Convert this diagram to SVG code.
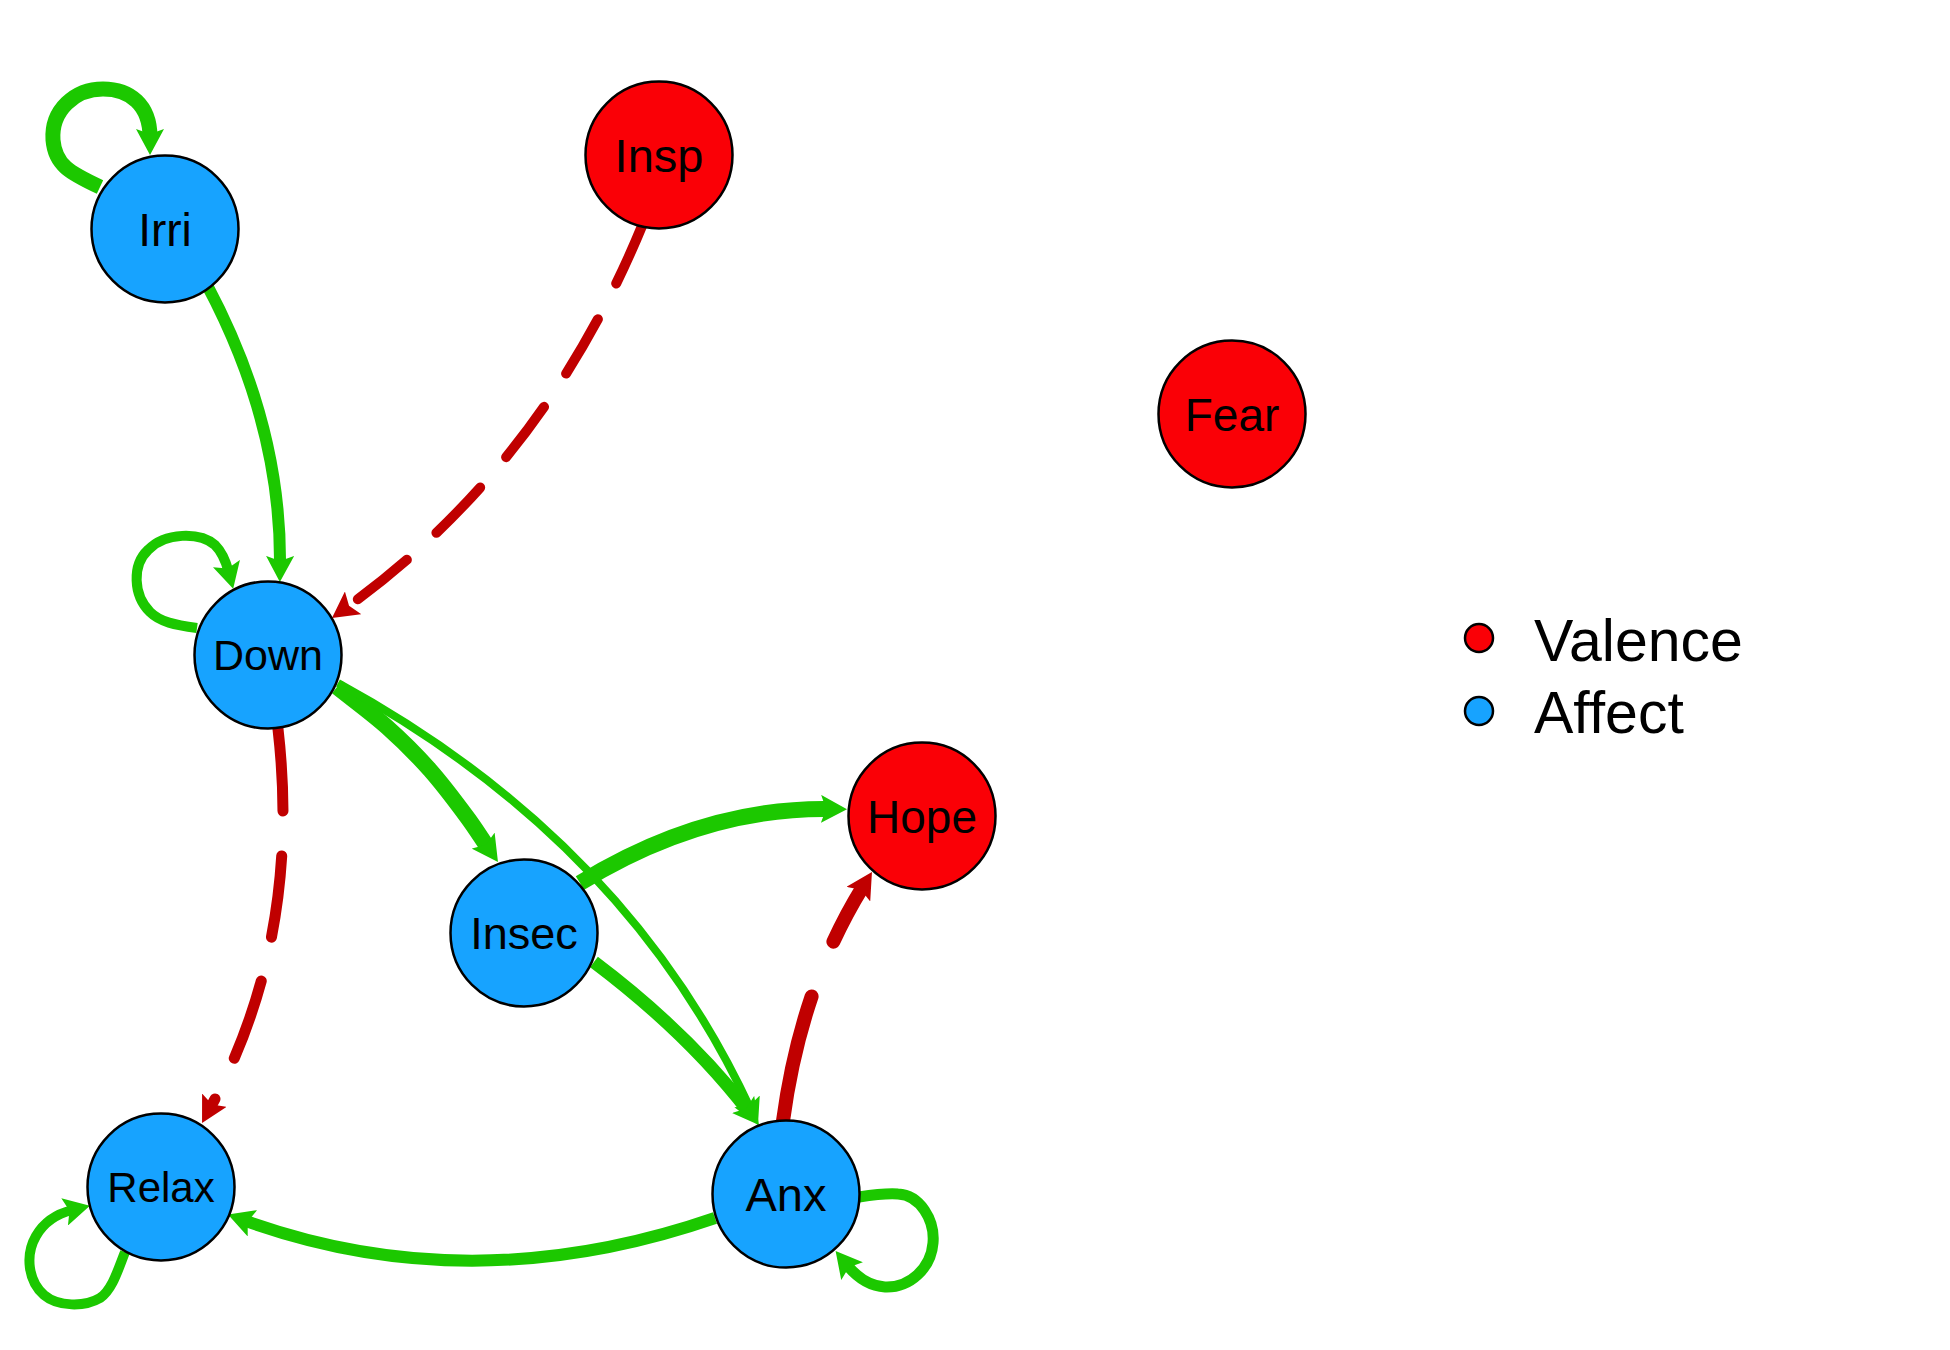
<svg xmlns="http://www.w3.org/2000/svg" width="1950" height="1350" viewBox="0 0 1950 1350">
<defs>
<style>
.e{fill:none;stroke-linecap:butt}
.g{stroke:#1CC800}
.r{stroke:#C00000}
.d{stroke-linecap:round}
.n circle{stroke:#000;stroke-width:2.5}
.aff{fill:#17A3FF}
.val{fill:#FA0006}
text{font-family:"Liberation Sans",Arial,sans-serif;fill:#000;text-anchor:middle}
.leg{text-anchor:start;font-size:59px}
</style>
<marker id="ag" viewBox="0 0 26 28" refX="8" refY="14" markerWidth="26" markerHeight="28" orient="auto" markerUnits="userSpaceOnUse"><path d="M0,0 L26,14 L0,28 L5,14 Z" fill="#1CC800"/></marker>
<marker id="ar" viewBox="0 0 26 28" refX="8" refY="14" markerWidth="26" markerHeight="28" orient="auto" markerUnits="userSpaceOnUse"><path d="M0,0 L26,14 L0,28 L5,14 Z" fill="#C00000"/></marker>
</defs>
<rect width="1950" height="1350" fill="#fff"/>
<g id="edges">
<path id="e-irri-irri" class="e g" stroke-width="15" marker-end="url(#ag)" d="M100,187 C70,173 55,165 53,140 C51,110 75,89 103,89 C130,89 150,105 150,137"/>
<path id="e-irri-down" class="e g" stroke-width="12" marker-end="url(#ag)" d="M207,285 Q281,424 280,564"/>
<path id="e-insp-down" class="e r d" stroke-width="10" stroke-dasharray="63 40" marker-end="url(#ar)" d="M642,226 Q543,466 346.6,607.5"/>
<path id="e-down-down" class="e g" stroke-width="10" marker-end="url(#ag)" d="M197,628 C175,625 160,622 150,612 C133,595 132,565 148,550 C165,532 200,532 215,545 C222,552 226,562 228.5,571.3"/>
<path id="e-down-insec" class="e g" stroke-width="16" marker-end="url(#ag)" d="M337,687 C353.7,700.3 371.5,713.2 387,727 C402.5,740.8 416.7,755 430,770 C443.3,785 455.7,801.7 467,817 C474.5,827 482,839 487.7,847.2"/>
<path id="e-down-anx" class="e g" stroke-width="8" marker-end="url(#ag)" d="M338,683 Q626,840 750.4,1108.7"/>
<path id="e-down-relax" class="e r d" stroke-width="11" stroke-dasharray="82 45" marker-end="url(#ar)" d="M278,729 Q302,938 210.6,1107.2"/>
<path id="e-insec-hope" class="e g" stroke-width="16" marker-end="url(#ag)" d="M580,883 Q703,807.4 829,809"/>
<path id="e-insec-anx" class="e g" stroke-width="13" marker-end="url(#ag)" d="M594,962 Q687.5,1032.5 748,1110.8"/>
<path id="e-anx-hope" class="e r d" stroke-width="14" stroke-dasharray="128 59" marker-end="url(#ar)" d="M783,1121 Q801,987 862.5,887.3"/>
<path id="e-anx-relax" class="e g" stroke-width="12" marker-end="url(#ag)" d="M715,1218 Q471.5,1302 244.9,1220.6"/>
<path id="e-anx-anx" class="e g" stroke-width="11" marker-end="url(#ag)" d="M859,1197 C872,1195 885,1193 898,1194 C920,1195 935,1220 933,1243 C931,1268 910,1288 885,1287 C868,1286 856,1276 847,1265"/>
<path id="e-relax-relax" class="e g" stroke-width="10" marker-end="url(#ag)" d="M125,1252 C118,1270 112,1290 100,1298 C85,1307 58,1307 44,1295 C28,1281 25,1255 36,1236 C44,1222 56,1214 72.4,1210"/>
</g>
<g id="node-irri" class="n"><circle class="aff" cx="165" cy="229" r="73.5"/><text x="165" y="245.5" font-size="46">Irri</text></g>
<g id="node-insp" class="n"><circle class="val" cx="659" cy="155" r="73.5"/><text x="659" y="171.8" font-size="47">Insp</text></g>
<g id="node-fear" class="n"><circle class="val" cx="1232" cy="414" r="73.5"/><text x="1232" y="430.5" font-size="46">Fear</text></g>
<g id="node-down" class="n"><circle class="aff" cx="268" cy="655" r="73.5"/><text x="268" y="670.4" font-size="43">Down</text></g>
<g id="node-hope" class="n"><circle class="val" cx="922" cy="816" r="73.5"/><text x="922" y="832.5" font-size="46">Hope</text></g>
<g id="node-insec" class="n"><circle class="aff" cx="524" cy="933" r="73.5"/><text x="524" y="949.1" font-size="45">Insec</text></g>
<g id="node-relax" class="n"><circle class="aff" cx="161" cy="1187" r="73.5"/><text x="161" y="1202" font-size="42">Relax</text></g>
<g id="node-anx" class="n"><circle class="aff" cx="786" cy="1194" r="73.5"/><text x="786" y="1210.8" font-size="47">Anx</text></g>
<g id="legend" class="n">
<circle class="val" cx="1479" cy="638" r="14"/>
<circle class="aff" cx="1479" cy="711" r="14"/>
<text class="leg" x="1534" y="661">Valence</text>
<text class="leg" x="1534" y="733">Affect</text>
</g>
</svg>
